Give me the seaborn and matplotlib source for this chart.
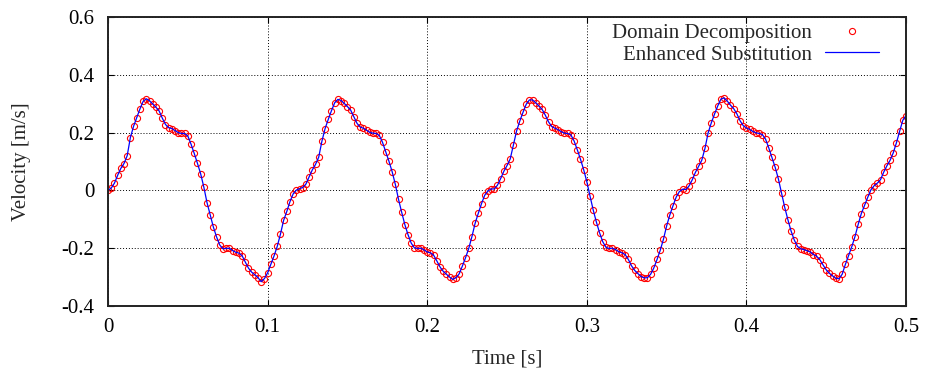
import numpy as np
import seaborn as sns
import matplotlib.pyplot as plt

# velocity samples [m/s], one every 2 ms from t = 0 to t = 0.5 s
dt = 0.002
velocity = [
    0.000, 0.008, 0.025, 0.052, 0.076, 0.093, 0.120, 0.183, 0.222, 0.252,
    0.282, 0.308, 0.317, 0.310, 0.299, 0.288, 0.275, 0.250, 0.228, 0.217,
    0.214, 0.207, 0.200, 0.197, 0.197, 0.188, 0.160, 0.128, 0.094, 0.058,
    0.012, -0.042, -0.085, -0.127, -0.161, -0.189, -0.202, -0.201, -0.200, -0.208,
    -0.214, -0.217, -0.226, -0.248, -0.269, -0.283, -0.292, -0.302, -0.316, -0.305,
    -0.285, -0.256, -0.227, -0.194, -0.152, -0.104, -0.073, -0.039, -0.012, 0.001,
    0.006,
    # second cycle
    0.010, 0.022, 0.047, 0.071, 0.090, 0.115, 0.170, 0.214, 0.246, 0.276,
    0.303, 0.315, 0.311, 0.301, 0.290, 0.278, 0.255, 0.232, 0.219, 0.215,
    0.208, 0.201, 0.198, 0.197, 0.190, 0.166, 0.134, 0.101, 0.065, 0.021,
    -0.031, -0.076, -0.119, -0.154, -0.183, -0.199, -0.201, -0.200, -0.206, -0.213,
    -0.216, -0.224, -0.244, -0.265, -0.280, -0.290, -0.300, -0.308, -0.302, -0.289,
    -0.262, -0.233, -0.201, -0.160, -0.114, -0.079, -0.046, -0.017, -0.002, 0.005,
    # third cycle
    0.005, 0.018, 0.041, 0.066, 0.086, 0.109, 0.158, 0.206, 0.240, 0.270,
    0.298, 0.313, 0.313, 0.303, 0.292, 0.280, 0.260, 0.237, 0.221, 0.215,
    0.210, 0.203, 0.198, 0.197, 0.192, 0.171, 0.141, 0.108, 0.072, 0.030,
    -0.020, -0.068, -0.110, -0.147, -0.178, -0.197, -0.201, -0.200, -0.205, -0.212,
    -0.216, -0.222, -0.239, -0.261, -0.277, -0.288, -0.298, -0.303, -0.302, -0.290,
    -0.268, -0.239, -0.207, -0.169, -0.123, -0.085, -0.053, -0.023, -0.004, 0.004,
    # fourth cycle
    0.003, 0.015, 0.036, 0.062, 0.083, 0.104, 0.145, 0.199, 0.234, 0.264,
    0.292, 0.316, 0.320, 0.309, 0.295, 0.283, 0.265, 0.241, 0.224, 0.216,
    0.211, 0.204, 0.199, 0.197, 0.193, 0.177, 0.147, 0.114, 0.080, 0.040,
    -0.010, -0.059, -0.102, -0.141, -0.172, -0.194, -0.202, -0.205, -0.209, -0.213,
    -0.222, -0.228, -0.240, -0.258, -0.275, -0.287, -0.296, -0.304, -0.306, -0.290,
    -0.256, -0.226, -0.195, -0.160, -0.118, -0.080, -0.052, -0.024, 0.002, 0.016,
    # start of fifth cycle
    0.025, 0.037, 0.063, 0.085, 0.104, 0.130, 0.165, 0.205, 0.243, 0.259,
]
domain_decomposition = velocity
enhanced_substitution = velocity
time = np.arange(len(velocity)) * dt

x_ticks = [0, 0.1, 0.2, 0.3, 0.4, 0.5]
y_ticks = [-0.4, -0.2, 0, 0.2, 0.4, 0.6]
x_labels = ["0", "0.1", "0.2", "0.3", "0.4", "0.5"]
y_labels = ["-0.4", "-0.2", "0", "0.2", "0.4", "0.6"]

sns.set_style("ticks")
plt.rcParams['font.family'] = ['Liberation Serif', 'DejaVu Serif']
plt.rcParams['font.size'] = 15

fig = plt.figure(figsize=(9.25, 3.76), dpi=100)
ax = fig.add_axes([0.1168, 0.1862, 0.8627, 0.7686])

sns.lineplot(x=time, y=domain_decomposition, ax=ax, marker='o', linestyle='',
             markerfacecolor='none', markeredgecolor='red', markersize=4.4,
             markeredgewidth=0.8, color='red', label='Domain Decomposition')
sns.lineplot(x=time, y=enhanced_substitution, ax=ax, color='blue',
             linewidth=0.9, label='Enhanced Substitution')

ax.set_xlim(0, 0.5)
ax.set_ylim(-0.4, 0.6)
ax.set_xticks(x_ticks)
ax.set_xticklabels(x_labels)
ax.set_yticks(y_ticks)
ax.set_yticklabels(y_labels)
ax.set_xlabel('Time [s]', labelpad=9)
ax.set_ylabel('Velocity [m/s]', labelpad=22)
ax.grid(True, color='black', linestyle=(0, (1, 2)), linewidth=0.7)
ax.tick_params(direction='in', top=True, right=True, length=4, width=0.8,
               colors='black', labelsize=15)
ax.tick_params(axis='x', pad=9)
ax.tick_params(axis='y', pad=10)
for side in ax.spines.values():
    side.set_linewidth(1.4)
    side.set_color('#222222')

ax.legend(loc='upper right', frameon=False, markerfirst=False,
          handlelength=2.6, handletextpad=0.6, labelspacing=0.1,
          borderaxespad=0.3, bbox_to_anchor=(0.984, 1.028), fontsize=15)

fig.savefig('out.png', dpi=100)
